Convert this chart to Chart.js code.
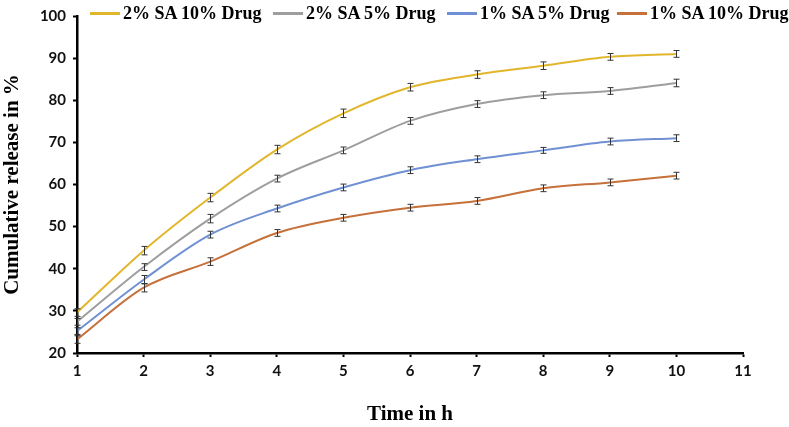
<!DOCTYPE html>
<html>
<head>
<meta charset="utf-8">
<script src="https://cdn.jsdelivr.net/npm/chart.js@4"></script>
<style>
    html, body { margin: 0; padding: 0; background: #fff; }
    .wrap { position: relative; width: 789px; height: 427px; }
    .legend-item { position: absolute; top: 1px; height: 24px; display: flex; align-items: center;
        font-family: "Liberation Serif", "Times New Roman", serif; font-weight: bold; font-size: 18px; color: #000; white-space: nowrap; }
    .legend-item span.swatch { display: inline-block; width: 30px; height: 3px; margin-right: 3px; }
</style>
</head>
<body>
<div class="wrap">
    <canvas id="releaseChart" width="789" height="427"></canvas>
    <div id="legend"></div>
</div>
<script>
// Data
const timeHours = [1, 2, 3, 4, 5, 6, 7, 8, 9, 10];
const seriesNames = ['2% SA 10% Drug', '2% SA 5% Drug', '1% SA 5% Drug', '1% SA 10% Drug'];
const sa2Drug10 = [29.6, 44.3, 56.9, 68.3, 76.9, 83.1, 86.1, 88.2, 90.3, 91.0];
const sa2Drug5 = [27.4, 40.4, 51.9, 61.4, 68.1, 75.1, 79.1, 81.2, 82.2, 84.1];
const sa1Drug5 = [25.2, 37.4, 48.1, 54.3, 59.3, 63.4, 66.0, 68.1, 70.2, 71.0];
const sa1Drug10 = [23.2, 35.5, 41.7, 48.5, 52.1, 54.5, 56.1, 59.1, 60.5, 62.1];
const errors2Drug10 = [0.9, 1.0, 1.0, 1.0, 1.0, 0.9, 0.9, 0.9, 0.8, 0.8];
const errors2Drug5 = [0.8, 0.8, 1.0, 0.8, 0.8, 0.8, 0.8, 0.8, 0.8, 0.9];
const errors1Drug5 = [0.8, 1.0, 0.8, 0.8, 0.8, 0.8, 0.8, 0.7, 0.8, 0.8];
const errors1Drug10 = [0.9, 1.0, 0.9, 0.8, 0.8, 0.8, 0.8, 0.8, 0.8, 0.8];
const xTicks = [1, 2, 3, 4, 5, 6, 7, 8, 9, 10, 11];
const yTicks = [20, 30, 40, 50, 60, 70, 80, 90, 100];

const colors = ['#E2B62C', '#9E9E9E', '#6F90D2', '#C6703A'];
const allValues = [sa2Drug10, sa2Drug5, sa1Drug5, sa1Drug10];
const allErrors = [errors2Drug10, errors2Drug5, errors1Drug5, errors1Drug10];

// Legend (HTML)
const legendLeft = [90, 273, 447, 617];
document.getElementById('legend').innerHTML = seriesNames.map((name, i) =>
    `<div class="legend-item" style="left:${legendLeft[i]}px"><span class="swatch" style="background:${colors[i]}"></span>${name}</div>`
).join('');

// Error bar plugin
const errorBars = {
    id: 'errorBars',
    afterDatasetsDraw(chart) {
        const ctx = chart.ctx;
        const xs = chart.scales.x, ys = chart.scales.y;
        ctx.save();
        ctx.strokeStyle = '#333';
        ctx.lineWidth = 1;
        chart.data.datasets.forEach((ds, i) => {
            ds.data.forEach((pt, j) => {
                const err = allErrors[i][j];
                const x = Math.round(xs.getPixelForValue(pt.x)) + 0.5;
                const yTop = ys.getPixelForValue(pt.y + err);
                const yBot = ys.getPixelForValue(pt.y - err);
                ctx.beginPath();
                ctx.moveTo(x, yTop); ctx.lineTo(x, yBot);
                ctx.moveTo(x - 3, yTop); ctx.lineTo(x + 3, yTop);
                ctx.moveTo(x - 3, yBot); ctx.lineTo(x + 3, yBot);
                ctx.stroke();
            });
        });
        ctx.restore();
    }
};

const ctx = document.getElementById('releaseChart').getContext('2d');
new Chart(ctx, {
    type: 'line',
    data: {
        datasets: seriesNames.map((name, i) => ({
            label: name,
            data: timeHours.map((t, j) => ({ x: t, y: allValues[i][j] })),
            borderColor: colors[i],
            borderWidth: 2,
            pointRadius: 0,
            fill: false,
            cubicInterpolationMode: 'monotone'
        }))
    },
    options: {
        responsive: false,
        animation: false,
        layout: { padding: { top: 13, right: 46, left: 0, bottom: 0 } },
        plugins: {
            legend: { display: false },
            tooltip: { enabled: false }
        },
        scales: {
            x: {
                type: 'linear',
                min: 1,
                max: 11,
                afterFit: scale => { scale.height = 74; },
                afterBuildTicks: scale => { scale.ticks = xTicks.map(v => ({ value: v })); },
                grid: { drawOnChartArea: false, drawTicks: true, tickLength: 4, tickWidth: 2, tickColor: '#000' },
                border: { color: '#000', width: 2.5 },
                ticks: { color: '#111', padding: 5, font: { family: 'Lato', weight: 'bold', size: 15 } },
                title: {
                    display: true,
                    text: 'Time in h',
                    color: '#000',
                    padding: 0,
                    font: { family: '"Liberation Serif", serif', weight: 'bold', size: 21 }
                }
            },
            y: {
                min: 20,
                max: 100,
                afterFit: scale => { scale.width = 77; },
                afterBuildTicks: scale => { scale.ticks = yTicks.map(v => ({ value: v })); },
                grid: { drawOnChartArea: false, drawTicks: true, tickLength: 4, tickWidth: 2, tickColor: '#000' },
                border: { color: '#000', width: 2.5 },
                ticks: { color: '#111', padding: 7, font: { family: 'Lato', weight: 'bold', size: 15 } },
                title: {
                    display: true,
                    text: 'Cumulative release in %',
                    color: '#000',
                    padding: 0,
                    font: { family: '"Liberation Serif", serif', weight: 'bold', size: 21 }
                }
            }
        }
    },
    plugins: [errorBars]
});
</script>
</body>
</html>
